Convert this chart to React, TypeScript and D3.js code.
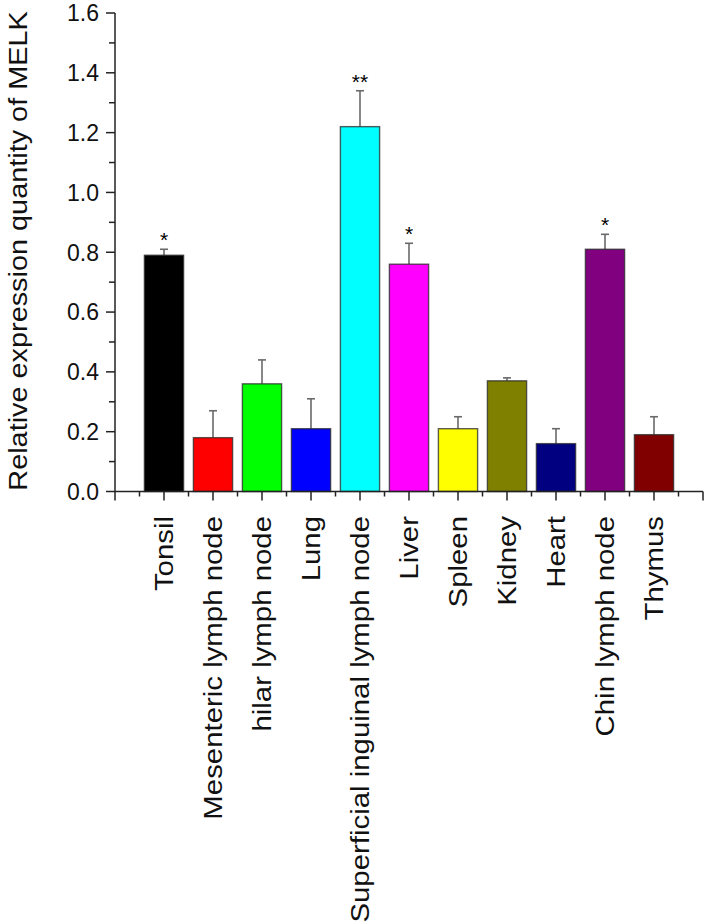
import React from "react";
import * as d3 from "d3";

const categories = [
  "Tonsil",
  "Mesenteric lymph node",
  "hilar lymph node",
  "Lung",
  "Superficial inguinal lymph node",
  "Liver",
  "Spleen",
  "Kidney",
  "Heart",
  "Chin lymph node",
  "Thymus",
];
const values = [0.79, 0.18, 0.36, 0.21, 1.22, 0.76, 0.21, 0.37, 0.16, 0.81, 0.19];
const errors = [0.02, 0.09, 0.08, 0.1, 0.12, 0.07, 0.04, 0.01, 0.05, 0.05, 0.06];
const colors = [
  "#000000",
  "#ff0000",
  "#00ff00",
  "#0000ff",
  "#00ffff",
  "#ff00ff",
  "#ffff00",
  "#808000",
  "#000080",
  "#800080",
  "#800000",
];
const marks = ["*", "", "", "", "**", "*", "", "", "", "*", ""];
const yMajorTicks = [0, 0.2, 0.4, 0.6, 0.8, 1.0, 1.2, 1.4, 1.6];
const yTitle = "Relative expression quantity of MELK";

const W = 712;
const H = 924;
const FONT = "Liberation Sans, Arial, Helvetica, sans-serif";

export default function App() {
  const x = d3.scaleLinear().domain([0, 12]).range([115, 703]);
  const y = d3.scaleLinear().domain([0, 1.6]).range([491.5, 13]);
  const barW = x(0.8) - x(0);
  const fmt = d3.format(".1f");
  const yMinor = d3.range(0.1, 1.6, 0.2);
  const xMajor = d3.range(0, 13, 1);
  const xMinor = d3.range(0.5, 12, 1);
  const axisColor = "#222";

  return (
    <svg
      width={W}
      height={H}
      style={{ position: "absolute", left: 0, top: 0, background: "#fff" }}
      fontFamily={FONT}
    >
      <rect x={0} y={0} width={W} height={H} fill="#fff" />
      {/* bars */}
      {values.map((v, i) => {
        const cx = x(i + 1);
        return (
          <g key={i}>
            <line
              x1={cx}
              x2={cx}
              y1={y(v)}
              y2={y(v + errors[i])}
              stroke="#6a6a6a"
              strokeWidth={1.6}
            />
            <line
              x1={cx - 4}
              x2={cx + 4}
              y1={y(v + errors[i])}
              y2={y(v + errors[i])}
              stroke="#6a6a6a"
              strokeWidth={1.6}
            />
            <rect
              x={cx - barW / 2}
              y={y(v)}
              width={barW}
              height={y(0) - y(v)}
              fill={colors[i]}
              stroke="rgba(40,40,40,0.75)"
              strokeWidth={1.4}
            />
            {marks[i] && (
              <text
                x={cx}
                y={y(v + errors[i]) - 2}
                textAnchor="middle"
                fontSize={21}
                fill="#000"
              >
                {marks[i]}
              </text>
            )}
          </g>
        );
      })}
      {/* y axis */}
      <line x1={x(0)} x2={x(0)} y1={y(1.6)} y2={y(0)} stroke={axisColor} strokeWidth={1.5} />
      {yMajorTicks.map((t) => (
        <g key={"ym" + t}>
          <line x1={x(0) - 9} x2={x(0)} y1={y(t)} y2={y(t)} stroke={axisColor} strokeWidth={1.5} />
          <text
            x={99}
            y={y(t)}
            dy="0.36em"
            textAnchor="end"
            fontSize={23}
            fill="#111"
          >
            {fmt(t)}
          </text>
        </g>
      ))}
      {yMinor.map((t) => (
        <line key={"yn" + t} x1={x(0) - 6} x2={x(0)} y1={y(t)} y2={y(t)} stroke={axisColor} strokeWidth={1.5} />
      ))}
      {/* x axis */}
      <line x1={x(0)} x2={x(12)} y1={y(0)} y2={y(0)} stroke={axisColor} strokeWidth={1.5} />
      {xMajor.map((t) => (
        <line key={"xm" + t} x1={x(t)} x2={x(t)} y1={y(0)} y2={y(0) + 9} stroke={axisColor} strokeWidth={1.5} />
      ))}
      {xMinor.map((t) => (
        <line key={"xn" + t} x1={x(t)} x2={x(t)} y1={y(0)} y2={y(0) + 5} stroke={axisColor} strokeWidth={1.5} />
      ))}
      {/* category labels */}
      {categories.map((c, i) => (
        <text
          key={c}
          transform={`translate(${x(i + 1) + 9},516) rotate(-90) scale(1.13,1)`}
          textAnchor="end"
          fontSize={26}
          fill="#111"
        >
          {c}
        </text>
      ))}
      {/* y title */}
      <text
        transform={`translate(27,${(10 + 492) / 2}) rotate(-90) scale(1.11,1)`}
        textAnchor="middle"
        fontSize={26}
        fill="#111"
      >
        {yTitle}
      </text>
    </svg>
  );
}
